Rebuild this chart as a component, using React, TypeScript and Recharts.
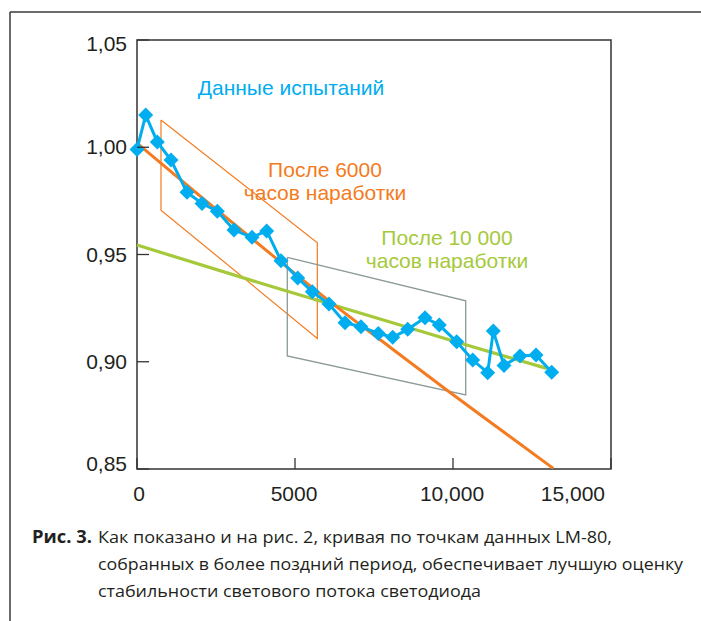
import React from 'react';
import { LineChart, Line, XAxis, YAxis, ReferenceArea } from 'recharts';

// Test data (hours, relative luminous flux)
const testHours = [0, 275, 643, 1076, 1582, 2057, 2542, 3070, 3639, 4104, 4557, 5085, 5547, 6076, 6582, 7089, 7636, 8092, 8566, 9114, 9566, 10117, 10623, 11098, 11275, 11614, 12120, 12627, 13123];
const testFlux = [0.999, 1.015, 1.0025, 0.994, 0.979, 0.9738, 0.9702, 0.9614, 0.958, 0.961, 0.9471, 0.9391, 0.9326, 0.9269, 0.9182, 0.9163, 0.9132, 0.9114, 0.9151, 0.9205, 0.9171, 0.9093, 0.9008, 0.8949, 0.9143, 0.8983, 0.9027, 0.9031, 0.8951];

// Fit after 6000 h (orange)
const fit6000Hours = [0, 2000, 4209, 6320, 8060, 9801, 11487, 13174];
const fit6000Flux = [1.0019, 0.9772, 0.9505, 0.9256, 0.9062, 0.8868, 0.8685, 0.8503];

// Fit after 10 000 h (green)
const fit10000Hours = [0, 4209, 10538, 12965];
const fit10000Flux = [0.9544, 0.9353, 0.9073, 0.8969];

// Parallelogram windows
const box6000Hours = [759, 5706, 5706, 759, 759];
const box6000Flux = [1.0127, 0.9555, 0.9109, 0.9707, 1.0127];
const box10000Hours = [4756, 10402, 10402, 4756, 4756];
const box10000Flux = [0.9487, 0.9284, 0.8845, 0.9027, 0.9487];

// Axis ticks
const xTicks = [0, 5000, 10000, 15000];
const xTickLabels = ['0', '5000', '10,000', '15,000'];
const yTicks = [0.85, 0.9, 0.95, 1.0, 1.05];

const zip = (xs: number[], ys: number[]) => xs.map((x, i) => ({ x, y: ys[i] }));

const testData = zip(testHours, testFlux);
const fit6000 = zip(fit6000Hours, fit6000Flux);
const fit10000 = zip(fit10000Hours, fit10000Flux);
const box6000 = zip(box6000Hours, box6000Flux);
const box10000 = zip(box10000Hours, box10000Flux);

const BLUE = '#00adef';
const ORANGE = '#f47b20';
const GREEN = '#a5c93a';
const GRAY = '#8a9a97';
const AXIS = '#333333';
const TEXT = '#231f20';
const FONT = '"Liberation Sans", Arial, sans-serif';
const CAPTION_FONT = '"Open Sans", "Noto Sans", sans-serif';

const Diamond = (props: any) => {
  const { cx, cy } = props;
  if (cx == null || cy == null) return null;
  const r = 7.5;
  return (
    <polygon
      points={`${cx},${cy - r} ${cx + r},${cy} ${cx},${cy + r} ${cx - r},${cy}`}
      fill={BLUE}
      stroke="none"
    />
  );
};

const XTick = (props: any) => {
  const { x, y, payload } = props;
  const v = payload.value;
  const label = xTickLabels[xTicks.indexOf(v)] ?? String(v);
  const isLast = v === xTicks[xTicks.length - 1];
  return (
    <g>
      <line x1={x} y1={y} x2={x} y2={y - 11} stroke={AXIS} strokeWidth={1.3} />
      <text
        x={isLast ? x - 6 : x + (v === 0 ? 2 : -1)}
        y={y + 32}
        textAnchor={isLast ? 'end' : 'middle'}
        fontSize={21}
        fontFamily={FONT}
        fill={TEXT}
      >
        {label}
      </text>
    </g>
  );
};

const YTick = (props: any) => {
  const { x, y, payload } = props;
  const v = payload.value;
  let dy = 7;
  if (v === yTicks[0]) dy = 2;
  if (v === yTicks[yTicks.length - 1]) dy = 11;
  return (
    <g>
      <line x1={x} y1={y} x2={x + 12} y2={y} stroke={AXIS} strokeWidth={1.3} />
      <text
        x={x - 10}
        y={y + dy}
        textAnchor="end"
        fontSize={21}
        fontFamily={FONT}
        fill={TEXT}
      >
        {v.toFixed(2).replace('.', ',')}
      </text>
    </g>
  );
};

export default function App() {
  return (
    <div style={{ position: 'absolute', left: 0, top: 0, width: 701, height: 621, background: '#fff' }}>
      <LineChart
        width={701}
        height={621}
        margin={{ top: 40, right: 90, bottom: 112, left: 77 }}
      >
        <XAxis
          dataKey="x"
          type="number"
          domain={[0, 15000]}
          ticks={xTicks}
          height={40}
          tickSize={0}
          tickMargin={0}
          axisLine={false}
          tickLine={false}
          tick={(p: any) => <XTick {...p} />}
          interval={0}
          allowDuplicatedCategory={true}
        />
        <YAxis
          type="number"
          domain={[0.85, 1.05]}
          ticks={yTicks}
          width={60}
          tickSize={0}
          tickMargin={0}
          axisLine={false}
          tickLine={false}
          tick={(p: any) => <YTick {...p} />}
          interval={0}
          allowDataOverflow={true}
        />
        <ReferenceArea
          x1={0}
          x2={15000}
          y1={0.85}
          y2={1.05}
          fill="none"
          fillOpacity={0}
          stroke={AXIS}
          strokeWidth={1.5}
        />
        <Line data={box6000} dataKey="y" type="linear" stroke={ORANGE} strokeWidth={1.2} dot={false} isAnimationActive={false} />
        <Line data={box10000} dataKey="y" type="linear" stroke={GRAY} strokeWidth={1.3} dot={false} isAnimationActive={false} />
        <Line data={fit10000} dataKey="y" type="monotone" stroke={GREEN} strokeWidth={3.2} dot={false} isAnimationActive={false} />
        <Line data={fit6000} dataKey="y" type="monotone" stroke={ORANGE} strokeWidth={3} dot={false} isAnimationActive={false} />
        <Line data={testData} dataKey="y" type="linear" stroke={BLUE} strokeWidth={3} dot={<Diamond />} isAnimationActive={false} />
      </LineChart>
      <svg
        width={701}
        height={621}
        style={{ position: 'absolute', left: 0, top: 0, pointerEvents: 'none' }}
      >
        {/* outer frame */}
        <line x1={10} y1={12} x2={701} y2={12} stroke="#3a3a3a" strokeWidth={1.5} />
        <line x1={10} y1={12} x2={10} y2={621} stroke="#3a3a3a" strokeWidth={1.5} />
        {/* annotations */}
        <text x={291} y={95} textAnchor="middle" fontSize={21} fontFamily={FONT} fill={BLUE}>Данные испытаний</text>
        <text x={325} y={177} textAnchor="middle" fontSize={21} fontFamily={FONT} fill={ORANGE}>После 6000</text>
        <text x={325} y={200} textAnchor="middle" fontSize={21} fontFamily={FONT} fill={ORANGE}>часов наработки</text>
        <text x={447} y={245} textAnchor="middle" fontSize={21} fontFamily={FONT} fill={GREEN}>После 10 000</text>
        <text x={447} y={268} textAnchor="middle" fontSize={21} fontFamily={FONT} fill={GREEN}>часов наработки</text>
        {/* caption */}
        <text x={32} y={543} fontSize={17} fontFamily={CAPTION_FONT} fontWeight={700} fill={TEXT} textLength={60} lengthAdjust="spacingAndGlyphs">Рис. 3.</text>
        <text x={98} y={543} fontSize={17} fontFamily={CAPTION_FONT} fill={TEXT} textLength={514} lengthAdjust="spacingAndGlyphs">Как показано и на рис. 2, кривая по точкам данных LM-80,</text>
        <text x={98} y={570} fontSize={17} fontFamily={CAPTION_FONT} fill={TEXT} textLength={585} lengthAdjust="spacingAndGlyphs">собранных в более поздний период, обеспечивает лучшую оценку</text>
        <text x={98} y={597} fontSize={17} fontFamily={CAPTION_FONT} fill={TEXT} textLength={383} lengthAdjust="spacingAndGlyphs">стабильности светового потока светодиода</text>
      </svg>
    </div>
  );
}
